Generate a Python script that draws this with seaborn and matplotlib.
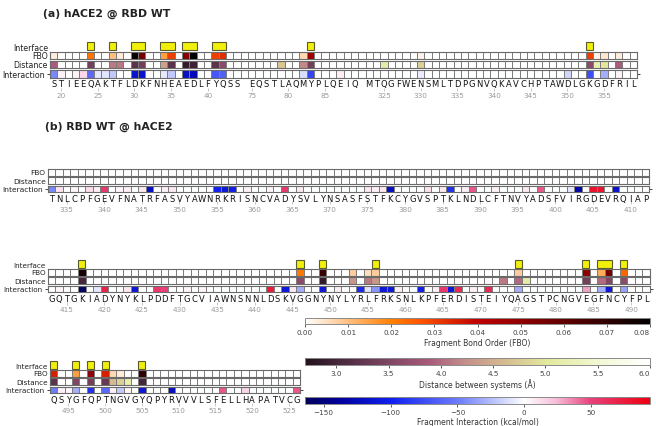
import numpy as np
import matplotlib
matplotlib.use("Agg")
import matplotlib as mpl
import matplotlib.pyplot as plt
from matplotlib.colors import LinearSegmentedColormap, Normalize
import seaborn as sns

sns.set_theme(style="white")
plt.rcParams['font.family'] = ['DejaVu Sans']

W, H = 656, 427

# ---------------- data ----------------
# panel (a): hACE2 residues contacting RBD WT
a_starts = [19, 75, 323]
a_seqs = ["STIEEQAKTFLDKFNHEAEDLFYQSS", "EQSTLAQMYPLQEIQ",
          "MTQGFWENSMLTDPGNVQKAVCHPTAWDLGKGDFRIL"]
a_ticks = [20, 25, 30, 35, 40, 75, 80, 85, 325, 330, 335, 340, 345, 350, 355]
a_interface = [24, 27, 30, 31, 34, 35, 37, 38, 41, 42, 83, 353]
a_fbo = {19: 0.003, 24: 0.022, 27: 0.010, 28: 0.003, 30: 0.078, 31: 0.055,
         34: 0.015, 35: 0.030, 37: 0.052, 38: 0.080, 41: 0.030, 42: 0.033,
         82: 0.006, 83: 0.047, 330: 0.002, 353: 0.030, 354: 0.002,
         355: 0.004, 357: 0.003}
a_dist = {19: 3.9, 24: 3.4, 27: 4.1, 28: 4.1, 30: 3.2, 31: 3.4, 34: 4.4,
          35: 3.2, 37: 2.85, 38: 2.95, 41: 3.2, 42: 3.6, 79: 4.7, 82: 4.2,
          83: 3.4, 325: 5.1, 330: 4.8, 353: 3.6, 354: 5.2, 355: 5.0, 357: 3.9}
a_inter = {19: -45, 20: 5, 22: 5, 23: 14, 24: -60, 25: -8, 26: -10, 27: -20,
           30: -115, 31: -115, 34: -8, 35: -20, 37: -120, 38: -125, 41: -70,
           42: -65, 82: -12, 83: -80, 87: 6, 330: -6, 350: -15, 353: -75,
           355: -30, 357: 5}

# panel (b) row 1: RBD 333-412
b1_start = 333
b1_seq = ("TNLCPFGEVFNATRFASVYAWNRKRISNCVADYSVLYNSASFSTFKCYGVSPTKLNDLCFTNVYADSF"
          "VIRGDEVRQIAP")
b1_ticks = [335, 340, 345, 350, 355, 360, 365, 370, 375, 380, 385, 390, 395,
            400, 405, 410]
b1_interface = []
b1_fbo = {}
b1_dist = {}
b1_inter = {333: -45, 334: 10, 336: 4, 338: 12, 339: 6, 340: 55, 342: 4,
            343: 6, 345: 8, 346: -120, 348: 6, 349: 8, 355: -100, 356: -110,
            357: -100, 359: 5, 362: 4, 364: 55, 366: 8, 375: 8, 376: 6,
            377: 8, 378: -120, 383: 10, 385: 8, 386: -90, 388: 6, 389: 45,
            392: 5, 396: 8, 398: 45, 402: -8, 403: -130, 405: 80, 406: 80,
            408: -115}

# panel (b) row 2: RBD 413-492
b2_start = 413
b2_seq = ("GQTGKIADYNYKLPDDFTGCVIAWNSNNLDSKVGGNYNYLYRLFRKSNLKPFERDISTEIYQAGSTP"
          "CNGVEGFNCYFPL")
b2_ticks = [415, 420, 425, 430, 435, 440, 445, 450, 455, 460, 465, 470, 475,
            480, 485, 490]
b2_interface = [417, 446, 449, 456, 475, 484, 486, 487, 489]
b2_fbo = {417: 0.075, 446: 0.021, 449: 0.068, 453: 0.008, 455: 0.005,
          456: 0.008, 475: 0.008, 484: 0.050, 486: 0.013, 487: 0.056,
          489: 0.024}
b2_dist = {417: 3.0, 446: 3.6, 449: 2.85, 453: 4.3, 455: 4.1, 456: 4.3,
           473: 4.1, 475: 4.0, 476: 5.1, 484: 3.4, 486: 4.0, 487: 3.5,
           489: 3.6}
b2_inter = {414: 4, 417: -160, 419: -8, 420: 70, 423: 8, 424: -110, 427: 55,
            428: 50, 431: 4, 433: 4, 442: 75, 444: -110, 445: 8, 446: -30,
            449: -110, 451: 6, 454: -95, 455: -10, 456: -40, 457: -110,
            458: -110, 459: 6, 462: -100, 464: 6, 465: 55, 466: -110, 467: 65,
            469: 6, 471: 65, 475: -30, 484: 30, 486: -30, 487: -110, 489: -35}

# panel (b) row 3: RBD 493-526
b3_start = 493
b3_seq = "QSYGFQPTNGVGYQPYRVVVLSFELLHAPATVCG"
b3_ticks = [495, 500, 505, 510, 515, 520, 525]
b3_interface = [493, 496, 498, 500, 505]
b3_fbo = {493: 0.035, 496: 0.015, 498: 0.050, 500: 0.035, 501: 0.006,
          502: 0.003, 505: 0.070}
b3_dist = {493: 3.2, 496: 3.5, 498: 3.4, 500: 3.3, 501: 4.6, 502: 4.8,
           503: 5.2, 505: 3.0}
b3_inter = {493: -50, 494: 6, 495: 4, 496: -30, 498: -90, 500: -60, 501: 6,
            502: -20, 503: 4, 505: -110, 509: -120, 516: 45, 519: 15, 526: 45}

fbo_range = (0.0, 0.08)
dist_range = (2.7, 6.0)
inter_range = (-164, 94)

# ---------------- colormaps ----------------
fbo_cmap = plt.get_cmap('gist_heat_r')
dist_cmap = LinearSegmentedColormap.from_list('dist', [
    (0.0, '#22111b'), (0.09, '#45263a'), (0.24, '#7e4662'), (0.36, '#a85a7a'),
    (0.45, '#c08888'), (0.55, '#d2b08e'), (0.70, '#e2e89c'), (0.85, '#f2f8d2'),
    (1.0, '#ffffff')])
inter_cmap = LinearSegmentedColormap.from_list('inter', [
    (0.0, '#00005a'), (0.10, '#00009c'), (0.25, '#1020f0'), (0.45, '#7080f8'),
    (0.636, '#ffffff'), (0.73, '#f6bcd8'), (0.83, '#e8407a'), (1.0, '#ee0010')])

fig = plt.figure(figsize=(W / 100, H / 100), dpi=100)
fig.patch.set_facecolor('white')


def rect(x, y, w, h):
    return [x / W, 1 - (y + h) / H, w / W, h / H]


TXT = '#222222'


def build_cols(starts, seqs):
    res, let = [], []
    for k, (s, q) in enumerate(zip(starts, seqs)):
        if k > 0:
            res.append(None)
            let.append('')
        for j, c in enumerate(q):
            res.append(s + j)
            let.append(c)
    return res, let


def draw_strip(res, letters, ticks, iface, fbo, dist, inter, x0, width,
               y_fbo, pitch, h, num_y, label_fs, show_iface=True):
    n = len(res)
    rows = [('FBO', fbo, 0.0, fbo_cmap, fbo_range),
            ('Distance', dist, dist_range[1], dist_cmap, dist_range),
            ('Interaction', inter, 0.0, inter_cmap, inter_range)]
    axes = []
    for k, (name, d, default, cmap, rng) in enumerate(rows):
        vals = [d.get(r, default) if r is not None else default for r in res]
        ax = fig.add_axes(rect(x0, y_fbo + k * pitch, width, h))
        sns.heatmap(np.array([vals]), ax=ax, cmap=cmap, vmin=rng[0],
                    vmax=rng[1], cbar=False, linewidths=0.6,
                    linecolor='#7e7e7e', xticklabels=False,
                    yticklabels=[name])
        for sp in ax.spines.values():
            sp.set_visible(True)
            sp.set_color('#6a6a6a')
            sp.set_linewidth(0.8)
        ax.set_yticklabels([name], rotation=0, fontsize=label_fs, color=TXT)
        ax.tick_params(axis='y', length=0, pad=1.5)
        axes.append(ax)
    ax = axes[-1]
    ax.tick_params(axis='y', left=True, right=True, length=2.2, width=0.7,
                   color='#444444')
    ax.set_xticks(np.arange(n) + 0.5)
    ax.set_xticklabels(letters, rotation=0, fontsize=6, color='#111111')
    ax.tick_params(axis='x', length=0, pad=1.0)
    # residue numbers
    y_bot = y_fbo + 2 * pitch + h
    sec = ax.secondary_xaxis(-(num_y - y_bot) / h)
    sec.set_xticks([res.index(t) + 0.5 for t in ticks])
    sec.set_xticklabels([str(t) for t in ticks], fontsize=5.2, color='#9a9a9a')
    sec.tick_params(axis='x', direction='out', length=2.2, width=0.6,
                    color='#bdbdbd', pad=1.2)
    sec.spines['bottom'].set_visible(False)
    # interface boxes
    if show_iface:
        axi = fig.add_axes(rect(x0, y_fbo - pitch - 0.2, width, h + 0.6))
        axi.set_xlim(0, n)
        axi.set_ylim(0, 1)
        idx = sorted(res.index(r) for r in iface)
        runs = []
        for i in idx:
            if runs and i == runs[-1][1] + 1:
                runs[-1][1] = i
            else:
                runs.append([i, i])
        centers = [(a + b + 1) / 2 for a, b in runs]
        widths = [b - a + 1 - 0.06 for a, b in runs]
        bars = axi.bar(centers, [1] * len(runs), width=widths, bottom=0,
                       color='#f0f00a', edgecolor='#5b5b2e', linewidth=0.8)
        for b in bars:
            b.set_clip_on(False)
        for sp in axi.spines.values():
            sp.set_visible(False)
        axi.set_facecolor('none')
        axi.set_xticks([])
        axi.set_yticks([0.5])
        axi.set_yticklabels(['Interface'], fontsize=label_fs, color=TXT)
        axi.tick_params(axis='y', length=0, pad=1.5)


# panel (a)
a_res, a_let = build_cols(a_starts, a_seqs)
fig.text(43 / W, 1 - 14 / H, '(a) hACE2 @ RBD WT', fontsize=7.8,
         fontweight='bold', color=TXT, va='center', ha='left')
draw_strip(a_res, a_let, a_ticks, a_interface, a_fbo, a_dist, a_inter,
           x0=50, width=587, y_fbo=52.7, pitch=9.3, h=7.4, num_y=88.5,
           label_fs=5.7)

# panel (b)
fig.text(45 / W, 1 - 126.7 / H, '(b) RBD WT @ hACE2', fontsize=7.8,
         fontweight='bold', color=TXT, va='center', ha='left')
b1_res, b1_let = build_cols([b1_start], [b1_seq])
draw_strip(b1_res, b1_let, b1_ticks, b1_interface, b1_fbo, b1_dist, b1_inter,
           x0=47.8, width=601.6, y_fbo=170, pitch=8.35, h=6.7, num_y=202,
           label_fs=5.4, show_iface=False)
b2_res, b2_let = build_cols([b2_start], [b2_seq])
draw_strip(b2_res, b2_let, b2_ticks, b2_interface, b2_fbo, b2_dist, b2_inter,
           x0=47.9, width=602, y_fbo=270, pitch=8.35, h=6.7, num_y=302.5,
           label_fs=5.2)
b3_res, b3_let = build_cols([b3_start], [b3_seq])
draw_strip(b3_res, b3_let, b3_ticks, b3_interface, b3_fbo, b3_dist, b3_inter,
           x0=50, width=250, y_fbo=371, pitch=8.35, h=6.7, num_y=403.5,
           label_fs=5.2)

# colorbars
cbars = [
    (318.5, fbo_cmap, fbo_range, np.arange(0, 0.081, 0.01), '%.2f',
     'Fragment Bond Order (FBO)'),
    (359.0, dist_cmap, dist_range, np.arange(3.0, 6.01, 0.5), '%.1f',
     'Distance between systems (Å)'),
    (398.0, inter_cmap, inter_range, [-150, -100, -50, 0, 50], None,
     'Fragment Interaction (kcal/mol)'),
]
for y, cmap, rng, ticks, fmt, label in cbars:
    cax = fig.add_axes(rect(305, y, 345, 6.8))
    sm = mpl.cm.ScalarMappable(norm=Normalize(*rng), cmap=cmap)
    cb = fig.colorbar(sm, cax=cax, orientation='horizontal')
    cb.set_ticks(list(ticks))
    if fmt:
        cb.set_ticklabels([fmt % t for t in ticks])
    cb.ax.tick_params(labelsize=5.2, length=2, width=0.6, colors='#444444',
                      pad=1.5)
    cb.outline.set_edgecolor('#8a8a8a')
    cb.outline.set_linewidth(0.7)
    cb.set_label(label, fontsize=5.5, color='#333333', labelpad=2)
    # keep the end label inside the figure, as in the reference
    last = cb.ax.get_xticklabels()[-1]
    if abs(ticks[-1] - rng[1]) < 1e-9:
        last.set_horizontalalignment('right')
        last.set_x(last.get_position()[0])

fig.savefig('out.png', dpi=100, facecolor='white')
